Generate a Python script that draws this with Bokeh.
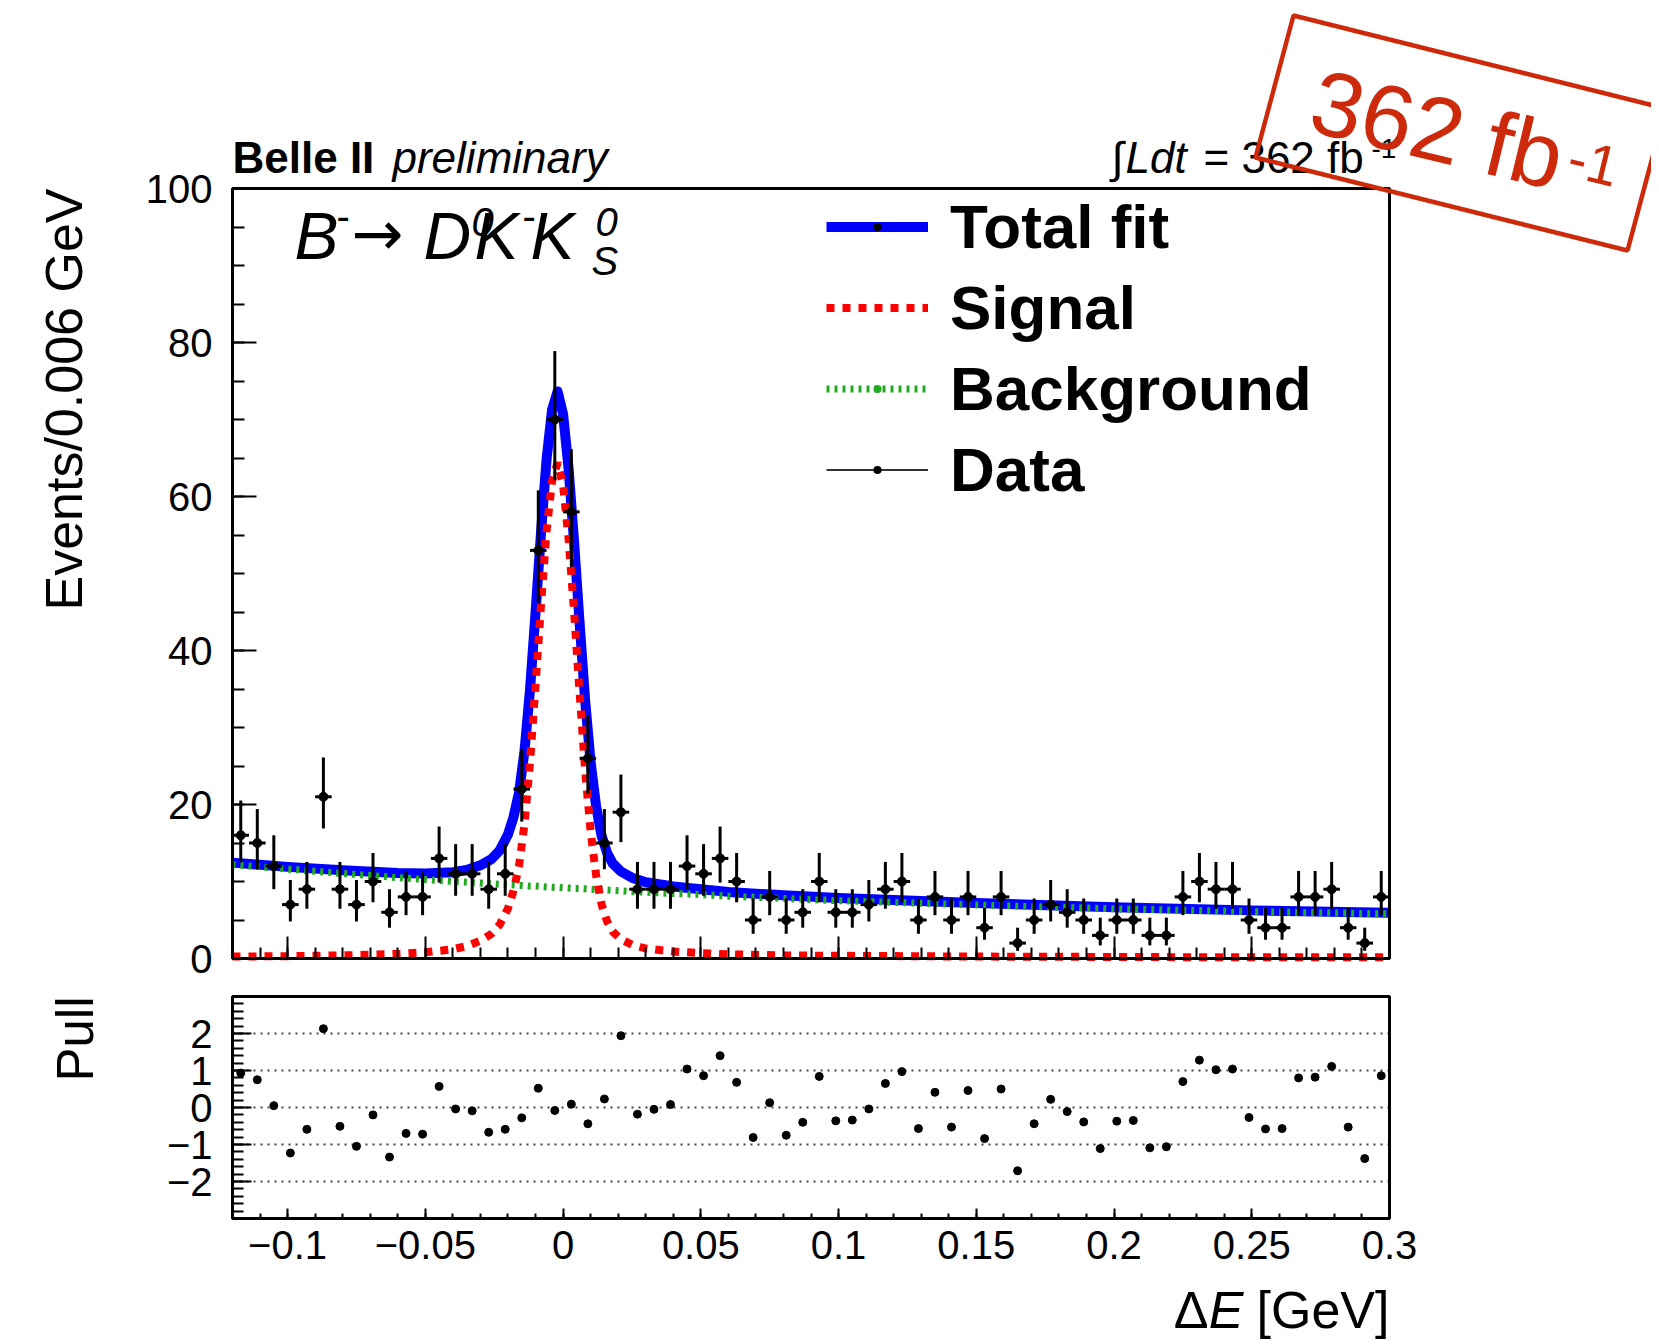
import numpy as np
from bokeh.plotting import figure
from bokeh.models import (Range1d, FixedTicker, CustomJSTickFormatter, Label,
                          PolyAnnotation, Legend, LegendItem)
from bokeh.layouts import column
from bokeh.embed import file_html
from bokeh.resources import INLINE

# ---------------- data ----------------
bin_width = 0.006
x_lo, x_hi = -0.12, 0.30
y_max = 100
pull_lo, pull_hi = -3, 3

counts = [16, 15, 12, 7, 9, 21, 9, 7, 10, 6,
          8, 8, 13, 11, 11, 9, 11, 22, 53, 70,
          58, 26, 15, 19, 9, 9, 9, 12, 11, 13,
          10, 5, 8, 5, 6, 10, 6, 6, 7, 9,
          10, 5, 8, 5, 8, 4, 8, 2, 5, 7,
          6, 5, 3, 5, 5, 3, 3, 8, 10, 9,
          9, 5, 4, 4, 8, 8, 9, 4, 2, 8]

pulls = [0.93, 0.75, 0.05, -1.23, -0.59, 2.13, -0.51, -1.05, -0.20, -1.34,
         -0.70, -0.72, 0.57, -0.04, -0.09, -0.67, -0.59, -0.28, 0.52, -0.08,
         0.09, -0.44, 0.23, 1.94, -0.18, -0.05, 0.08, 1.04, 0.86, 1.40,
         0.68, -0.81, 0.13, -0.75, -0.40, 0.84, -0.36, -0.34, -0.04, 0.65,
         0.97, -0.57, 0.41, -0.53, 0.46, -0.84, 0.50, -1.71, -0.44, 0.22,
         -0.11, -0.39, -1.11, -0.37, -0.35, -1.09, -1.06, 0.70, 1.28, 1.02,
         1.04, -0.27, -0.58, -0.57, 0.80, 0.82, 1.11, -0.53, -1.38, 0.86]

fit_x = [-0.12, -0.10, -0.08, -0.06, -0.05, -0.04, -0.035, -0.03, -0.026, -0.023,
         -0.02, -0.018, -0.016, -0.014, -0.012, -0.01, -0.008, -0.006, -0.004, -0.002,
         0.0, 0.002, 0.004, 0.006, 0.008, 0.01, 0.012, 0.014, 0.016, 0.018,
         0.021, 0.025, 0.03, 0.04, 0.05, 0.06, 0.08, 0.10, 0.15, 0.20,
         0.25, 0.30]
signal = [0.25, 0.3, 0.4, 0.6, 0.8, 1.2, 1.6, 2.3, 3.2, 4.4,
          6.5, 8.8, 12.0, 17.5, 25.5, 35.5, 46.0, 55.5, 62.0, 64.4,
          61.5, 54.5, 45.0, 34.5, 24.5, 16.5, 10.8, 7.0, 4.8, 3.5,
          2.5, 1.8, 1.3, 0.9, 0.7, 0.55, 0.4, 0.35, 0.25, 0.2,
          0.15, 0.15]
background = [12.2, 11.6, 11.05, 10.5, 10.25, 10.0, 9.9, 9.8, 9.7, 9.65,
              9.6, 9.55, 9.5, 9.45, 9.4, 9.4, 9.35, 9.3, 9.25, 9.25,
              9.2, 9.15, 9.1, 9.1, 9.05, 9.0, 8.95, 8.9, 8.9, 8.85,
              8.8, 8.7, 8.6, 8.45, 8.3, 8.1, 7.8, 7.5, 6.95, 6.45,
              6.1, 5.8]

x_ticks = [-0.1, -0.05, 0.0, 0.05, 0.1, 0.15, 0.2, 0.25, 0.3]
x_tick_labels = ["\u22120.1", "\u22120.05", "0", "0.05", "0.1", "0.15", "0.2", "0.25", "0.3"]
y_ticks = [0, 20, 40, 60, 80, 100]
y_tick_labels = ["0", "20", "40", "60", "80", "100"]
pull_ticks = [-2, -1, 0, 1, 2]
pull_tick_labels = ["\u22122", "\u22121", "0", "1", "2"]

# ---------------- derived ----------------
n = np.array(counts, dtype=float)
centers = x_lo + bin_width * (np.arange(len(counts)) + 0.5)
half = np.sqrt(n + 0.25)
y_low = n - half + 0.5
y_high = n + half + 0.5
total = np.array(signal) + np.array(background)

FONT = "Liberation Sans"
BLUE = "#0000ff"
RED = "#ff0000"
GREEN = "#22aa22"
STAMP = "#cc2a0a"

# ---------------- layout (pixels) ----------------
# Both frames fill their whole canvas; the axes are pinned at x_lo / 0 / pull_lo
# so that every text lies inside a frame.
PAGE_W = 1651
LEFT = 232            # page x of x_lo
DATA_W = 1157         # px from x_lo to x_hi
MAIN_BOX_H = 770      # px from 0 to y_max
MAIN_ABOVE = 188      # px above y_max (header, stamp)
MAIN_BELOW = 30       # px below 0
PULL_ABOVE, PULL_BOX_H, PULL_BELOW = 8, 222, 126

px_per_x = DATA_W / (x_hi - x_lo)
frame_x0 = x_lo - LEFT / px_per_x
frame_x1 = x_lo + (PAGE_W - LEFT) / px_per_x
px_per_y = MAIN_BOX_H / y_max
main_y0 = -MAIN_BELOW / px_per_y
main_y1 = y_max + MAIN_ABOVE / px_per_y
px_per_pull = PULL_BOX_H / (pull_hi - pull_lo)
pull_y0 = pull_lo - PULL_BELOW / px_per_pull
pull_y1 = pull_hi + PULL_ABOVE / px_per_pull


def fmt(ticks, labels):
    return CustomJSTickFormatter(args=dict(t=ticks, l=labels), code="""
        let b = 0;
        for (let i = 0; i < t.length; i++) {
            if (Math.abs(t[i] - tick) < Math.abs(t[b] - tick)) { b = i; }
        }
        return l[b];
    """)


def lab(fig, sx, sy, text, size, style="normal", angle=0.0, color="black",
        font=FONT, align="left"):
    # (sx, sy): wanted baseline point, px from the frame's bottom-left corner
    d = 0.36 * size
    fig.add_layout(Label(x=sx - np.sin(angle) * d, y=sy + np.cos(angle) * d,
                         x_units="screen", y_units="screen", text=text,
                         text_font=font, text_font_size=f"{size}px",
                         text_font_style=style, text_align=align,
                         text_baseline="alphabetic", angle=angle, text_color=color))


def style_axis(ax, tick_in, minor_in, label_size, standoff):
    ax.axis_line_width = 3
    ax.axis_line_color = "black"
    ax.major_tick_in = tick_in
    ax.major_tick_out = 0
    ax.minor_tick_in = minor_in
    ax.minor_tick_out = 0
    ax.major_tick_line_width = 2
    ax.minor_tick_line_width = 2
    ax.major_tick_line_color = "black"
    ax.minor_tick_line_color = "black"
    ax.major_label_text_font = FONT
    ax.major_label_text_font_size = label_size
    ax.major_label_text_color = "black"
    ax.major_label_standoff = standoff


minor_x = [round(v, 3) for v in np.arange(-0.12, 0.3001, 0.01)]

# ---------------- main panel ----------------
MAIN_H = MAIN_ABOVE + MAIN_BOX_H + MAIN_BELOW
p = figure(width=PAGE_W, height=MAIN_H,
           x_range=Range1d(frame_x0, frame_x1), y_range=Range1d(main_y0, main_y1),
           output_backend="svg", toolbar_location=None,
           min_border_left=0, min_border_right=0,
           min_border_top=0, min_border_bottom=0)
p.xgrid.visible = False
p.ygrid.visible = False
p.outline_line_color = None

ax = p.xaxis[0]
ax.ticker = FixedTicker(ticks=x_ticks, minor_ticks=minor_x)
ax.formatter = CustomJSTickFormatter(code="return '';")
ax.bounds = (x_lo, x_hi)
ax.fixed_location = 0
style_axis(ax, 22, 11, "10px", 0)
ay = p.yaxis[0]
ay.ticker = FixedTicker(ticks=y_ticks, minor_ticks=list(range(0, 101, 5)))
ay.formatter = fmt(y_ticks, y_tick_labels)
ay.bounds = (0, y_max)
ay.fixed_location = x_lo
style_axis(ay, 24, 12, "40px", 20)

r_total = p.line(fit_x, total, line_color=BLUE, line_width=10, line_join="round")
r_bkg = p.line(fit_x, background, line_color=GREEN, line_width=7, line_dash="3 5")
r_sig = p.line(fit_x, signal, line_color=RED, line_width=8, line_dash="8 8")

p.segment(x0=centers, y0=y_low, x1=centers, y1=y_high, line_color="black", line_width=3)
p.segment(x0=centers - bin_width / 2, y0=n, x1=centers + bin_width / 2, y1=n,
          line_color="black", line_width=3)
p.scatter(centers, n, size=9, marker="circle", color="black")

# drawn box of the main panel
p.quad(left=[x_lo], right=[x_hi], bottom=[0], top=[y_max],
       fill_alpha=0, line_color="black", line_width=3)

# legend-only glyphs (a single NaN point, nothing is drawn in the plot)
r_dot_k = p.scatter(x=[np.nan], y=[np.nan], marker="dot", line_color="black", size=30)
r_dot_g = p.scatter(x=[np.nan], y=[np.nan], marker="dot", line_color=GREEN, size=30)
r_dline = p.line(x=[np.nan], y=[np.nan], line_color="#333333", line_width=2)

legend = Legend(items=[
    LegendItem(label="Total fit", renderers=[r_total, r_dot_k]),
    LegendItem(label="Signal", renderers=[r_sig]),
    LegendItem(label="Background", renderers=[r_bkg, r_dot_g]),
    LegendItem(label="Data", renderers=[r_dline, r_dot_k]),
], location=(826, 448 + MAIN_BELOW), glyph_width=102, glyph_height=81, label_height=81,
    spacing=0, padding=0, margin=0, label_standoff=22,
    label_text_font=FONT, label_text_font_size="62px", label_text_font_style="bold",
    label_text_color="black", border_line_alpha=0, background_fill_alpha=0)
p.add_layout(legend)

# texts of the main panel: baseline points, px right of the page edge and
# px above the box bottom (y = 0)
def mlab(sx, sy, *args, **kw):
    lab(p, sx, sy + MAIN_BELOW, *args, **kw)


mlab(82, 770, "Events/0.006 GeV", 52, angle=np.pi / 2, align="right")

mlab(232, 785, "Belle II", 44, style="bold")
mlab(392, 785, "preliminary", 44, style="italic")
mlab(1111, 785, "\u222b", 44)
mlab(1125, 785, "Ldt", 44, style="italic")
mlab(1203, 785, "= 362 fb", 44)
mlab(1371, 800, "-1", 28)

mlab(294, 699, "B", 66, style="italic")
mlab(336, 728, "-", 40)
mlab(351, 703, "\u2192", 62, font="DejaVu Sans")
mlab(423, 699, "D", 66, style="italic")
mlab(471, 722, "0", 40, style="italic")
mlab(474, 699, "K", 66, style="italic")
mlab(522, 728, "-", 40)
mlab(530, 699, "K", 66, style="italic")
mlab(595, 722, "0", 40, style="italic")
mlab(591, 683, "S", 40, style="italic")

# stamp
p.add_layout(PolyAnnotation(xs=[1293, 1665, 1627, 1255],
                            ys=[v + MAIN_BELOW for v in (943, 850, 708, 801)],
                            xs_units="screen", ys_units="screen",
                            fill_alpha=0, line_color=STAMP, line_alpha=1,
                            line_width=4.5))
mlab(1305, 827, "362 fb", 92, angle=-0.2356, color=STAMP)
mlab(1564, 782, "-1", 56, angle=-0.2356, color=STAMP)

# ---------------- pull panel ----------------
q = figure(width=PAGE_W, height=PULL_ABOVE + PULL_BOX_H + PULL_BELOW,
           x_range=Range1d(frame_x0, frame_x1), y_range=Range1d(pull_y0, pull_y1),
           output_backend="svg", toolbar_location=None,
           min_border_left=0, min_border_right=0,
           min_border_top=0, min_border_bottom=0)
q.xgrid.visible = False
q.ygrid.visible = False
q.outline_line_color = None

qx = q.xaxis[0]
qx.ticker = FixedTicker(ticks=x_ticks, minor_ticks=minor_x)
qx.formatter = fmt(x_ticks, x_tick_labels)
qx.bounds = (x_lo, x_hi)
qx.fixed_location = pull_lo
style_axis(qx, 10, 5, "40px", 12)
qy = q.yaxis[0]
qy.ticker = FixedTicker(ticks=pull_ticks,
                        minor_ticks=[round(v, 1) for v in np.arange(-3, 3.01, 0.2)])
qy.formatter = fmt(pull_ticks, pull_tick_labels)
qy.bounds = (pull_lo, pull_hi)
qy.fixed_location = x_lo
style_axis(qy, 19, 11, "40px", 20)

# dotted reference lines at the labelled pull values
q.segment(x0=[x_lo] * len(pull_ticks), y0=pull_ticks,
          x1=[x_hi] * len(pull_ticks), y1=pull_ticks,
          line_color="#444444", line_width=2, line_dash="2 5")
q.scatter(centers, pulls, size=8, marker="circle", color="black")
q.quad(left=[x_lo], right=[x_hi], bottom=[pull_lo], top=[pull_hi],
       fill_alpha=0, line_color="black", line_width=3)

lab(q, 93, 348, "Pull", 51, angle=np.pi / 2, align="right")
lab(q, 1389, 16, "[GeV]", 52, align="right")
lab(q, 1243, 16, "E", 52, style="italic", align="right")
lab(q, 1208, 16, "\u0394", 52, align="right")

layout = column(p, q, spacing=0)
open("out.html", "w").write(file_html(layout, INLINE))
